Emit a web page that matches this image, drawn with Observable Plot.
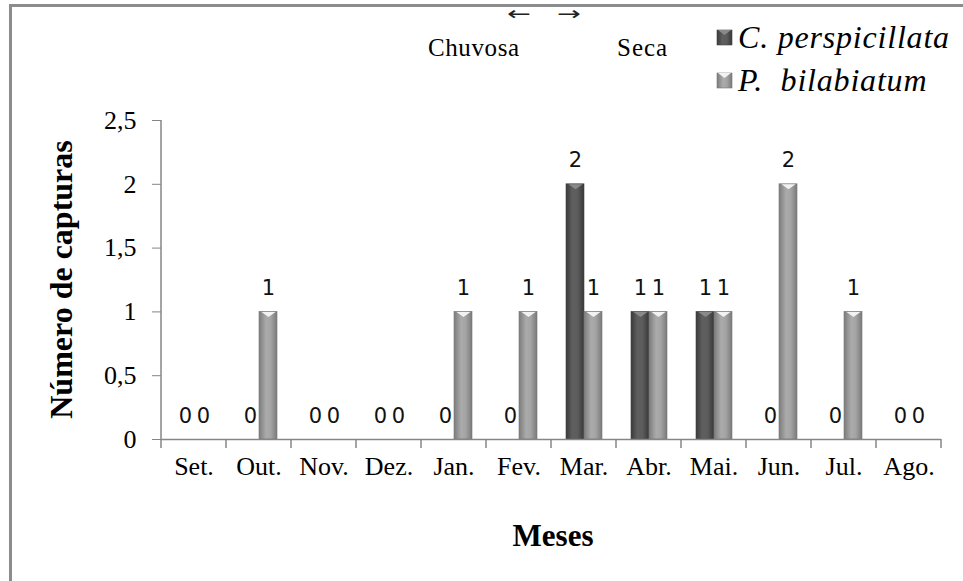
<!DOCTYPE html>
<html><head><meta charset="utf-8">
<script src="https://cdn.jsdelivr.net/npm/d3@7"></script>
<script src="https://cdn.jsdelivr.net/npm/@observablehq/plot@0.6"></script>
<style>
body{margin:0;background:#fff;}
#chart{position:relative;width:963px;height:581px;overflow:hidden;}
</style></head><body><div id="chart"></div>
<script>
const months = ["Set.","Out.","Nov.","Dez.","Jan.","Fev.","Mar.","Abr.","Mai.","Jun.","Jul.","Ago."];
const seriesKeys = ["C","P"];
const seriesLabels = ["C. perspicillata", "P.  bilabiatum"];
const cPerspicillata = [0,0,0,0,0,0,2,1,1,0,0,0];
const pBilabiatum = [0,1,0,0,1,1,1,1,1,2,1,0];
const yTicks = [0,0.5,1,1.5,2,2.5];
const seasonLabels = ["Chuvosa","Seca"];
const seasonArrows = ["←","→"];
const yTitle = "Número de capturas";
const xTitle = "Meses";

const rows = [];
months.forEach((m,i)=>{
  rows.push({month:m, series:"C", value:cPerspicillata[i]});
  rows.push({month:m, series:"P", value:pBilabiatum[i]});
});

const serif = "'Liberation Serif','Times New Roman',serif";
const sans = "'DejaVu Sans',sans-serif";
const axisGray = "#868686";

const flatTri = {draw(ctx){ ctx.moveTo(-7,0); ctx.lineTo(7,0); ctx.lineTo(0,5); ctx.closePath(); }};

const plot = Plot.plot({
  width: 963, height: 581,
  marginLeft: 158, marginRight: 19, marginTop: 120, marginBottom: 142,
  style: {background: "transparent", overflow: "visible"},
  fx: {domain: months, padding: 0, axis: null},
  x: {domain: seriesKeys, paddingInner: 0, paddingOuter: 0.7237, axis: null},
  y: {domain: [0, 2.5], axis: null},
  color: {domain: seriesKeys, range: ["url(#gDark)", "url(#gLight)"]},
  marks: [
    Plot.barY(rows, {fx: "month", x: "series", y: "value", fill: "series", stroke: d => d.series === "C" ? "#444" : "#777", strokeWidth: 0.6}),
    Plot.dot(rows.filter(d => d.value > 0), {fx: "month", x: "series", y: "value", symbol: flatTri, r: 4,
      fill: d => d.series === "C" ? "#8a8a8a" : "#f2f2f2", stroke: "none"}),
    Plot.ruleY([0], {stroke: axisGray, strokeWidth: 1.5}),
    Plot.text(rows, {fx: "month", x: "series", y: "value", text: d => String(d.value), lineAnchor: "bottom", dy: -17,
      fontSize: 21, fontFamily: sans, fill: "#111"}),
    Plot.axisY(yTicks, {tickSize: 9, tickPadding: 16, stroke: axisGray, fill: "black", fontSize: 26, fontFamily: serif,
      tickFormat: d => String(d).replace(".", ","), label: null}),
    Plot.axisFx({anchor: "bottom", tickSize: 0, tickPadding: 17, fontSize: 26, fontFamily: serif, label: null, fill: "black"})
  ]
});

const svg = d3.select(plot);
const defs = svg.insert("defs", ":first-child");
const gd = defs.append("linearGradient").attr("id","gDark").attr("x1","0").attr("x2","1").attr("y1","0").attr("y2","0");
[["0","#3a3a3a"],["0.35","#5f5f5f"],["0.65","#5c5c5c"],["1","#383838"]].forEach(([o,c])=>gd.append("stop").attr("offset",o).attr("stop-color",c));
const gl = defs.append("linearGradient").attr("id","gLight").attr("x1","0").attr("x2","1").attr("y1","0").attr("y2","0");
[["0","#7c7c7c"],["0.4","#ababab"],["0.65","#a4a4a4"],["1","#7a7a7a"]].forEach(([o,c])=>gl.append("stop").attr("offset",o).attr("stop-color",c));

// band boundary ticks and y axis line, from the plot's own scales
const fxS = plot.scale("fx"), yS = plot.scale("y");
const y0 = yS.apply(0), yTop = yS.apply(2.5);
const bounds = months.map(m => fxS.apply(m)).concat([fxS.apply(months[months.length-1]) + fxS.bandwidth]);
const deco = svg.append("g");
bounds.forEach(b => deco.append("line").attr("x1", b).attr("x2", b).attr("y1", y0).attr("y2", y0 + 9).attr("stroke", axisGray).attr("stroke-width", 1.5));
deco.append("line").attr("x1", bounds[0]).attr("x2", bounds[0]).attr("y1", yTop).attr("y2", y0).attr("stroke", axisGray).attr("stroke-width", 1.5);

const ann = svg.append("g").attr("text-anchor", "start").attr("fill", "black");
// titles
ann.append("text").attr("transform", `translate(65,${(y0 + yTop) / 2}) rotate(-90)`).attr("text-anchor","middle")
  .attr("dominant-baseline","middle").attr("font-family", serif).attr("font-weight","bold").attr("font-size", 32).text(yTitle);
ann.append("text").attr("x", (bounds[0] + bounds[bounds.length-1]) / 2 + 2).attr("y", 546).attr("text-anchor","middle")
  .attr("font-family", serif).attr("font-weight","bold").attr("font-size", 31).text(xTitle);

// season annotations
ann.append("text").attr("x", 428).attr("y", 56).attr("font-family", serif).attr("font-size", 25).attr("letter-spacing", 0.6).text(seasonLabels[0]);
ann.append("text").attr("x", 617).attr("y", 56).attr("font-family", serif).attr("font-size", 25).attr("letter-spacing", 1).text(seasonLabels[1]);
ann.append("text").attr("transform", "translate(519,20) scale(1.5,1)").attr("text-anchor","middle").attr("font-family", sans).attr("font-size", 19).attr("fill","#222").text(seasonArrows[0]);
ann.append("text").attr("transform", "translate(569,20) scale(1.5,1)").attr("text-anchor","middle").attr("font-family", sans).attr("font-size", 19).attr("fill","#222").text(seasonArrows[1]);

// legend
const legY = [37, 80];
seriesKeys.forEach((k, i) => {
  const g = ann.append("g").attr("transform", `translate(717,${legY[i]})`);
  g.append("rect").attr("x", 0).attr("y", -7).attr("width", 15).attr("height", 15).attr("fill", k === "C" ? "url(#gDark)" : "url(#gLight)").attr("stroke", k === "C" ? "#444" : "#777").attr("stroke-width", 0.6);
  g.append("path").attr("d", "M1,-7 L14,-7 L7.5,-2 Z").attr("fill", k === "C" ? "#8a8a8a" : "#f2f2f2");
  g.append("text").attr("x", 21).attr("y", 11).attr("text-anchor","start").attr("font-family", serif).attr("font-style","italic").attr("font-size", 32)
    .attr("letter-spacing", 0.8).style("white-space","pre").text(seriesLabels[i]);
});

// frame of the figure (left and top edges)
svg.append("path").attr("d", "M10.5,581 L10.5,5.5 L963,5.5").attr("fill","none").attr("stroke","#8c8c8c").attr("stroke-width", 3);

document.getElementById("chart").appendChild(plot);
</script>
</body></html>
